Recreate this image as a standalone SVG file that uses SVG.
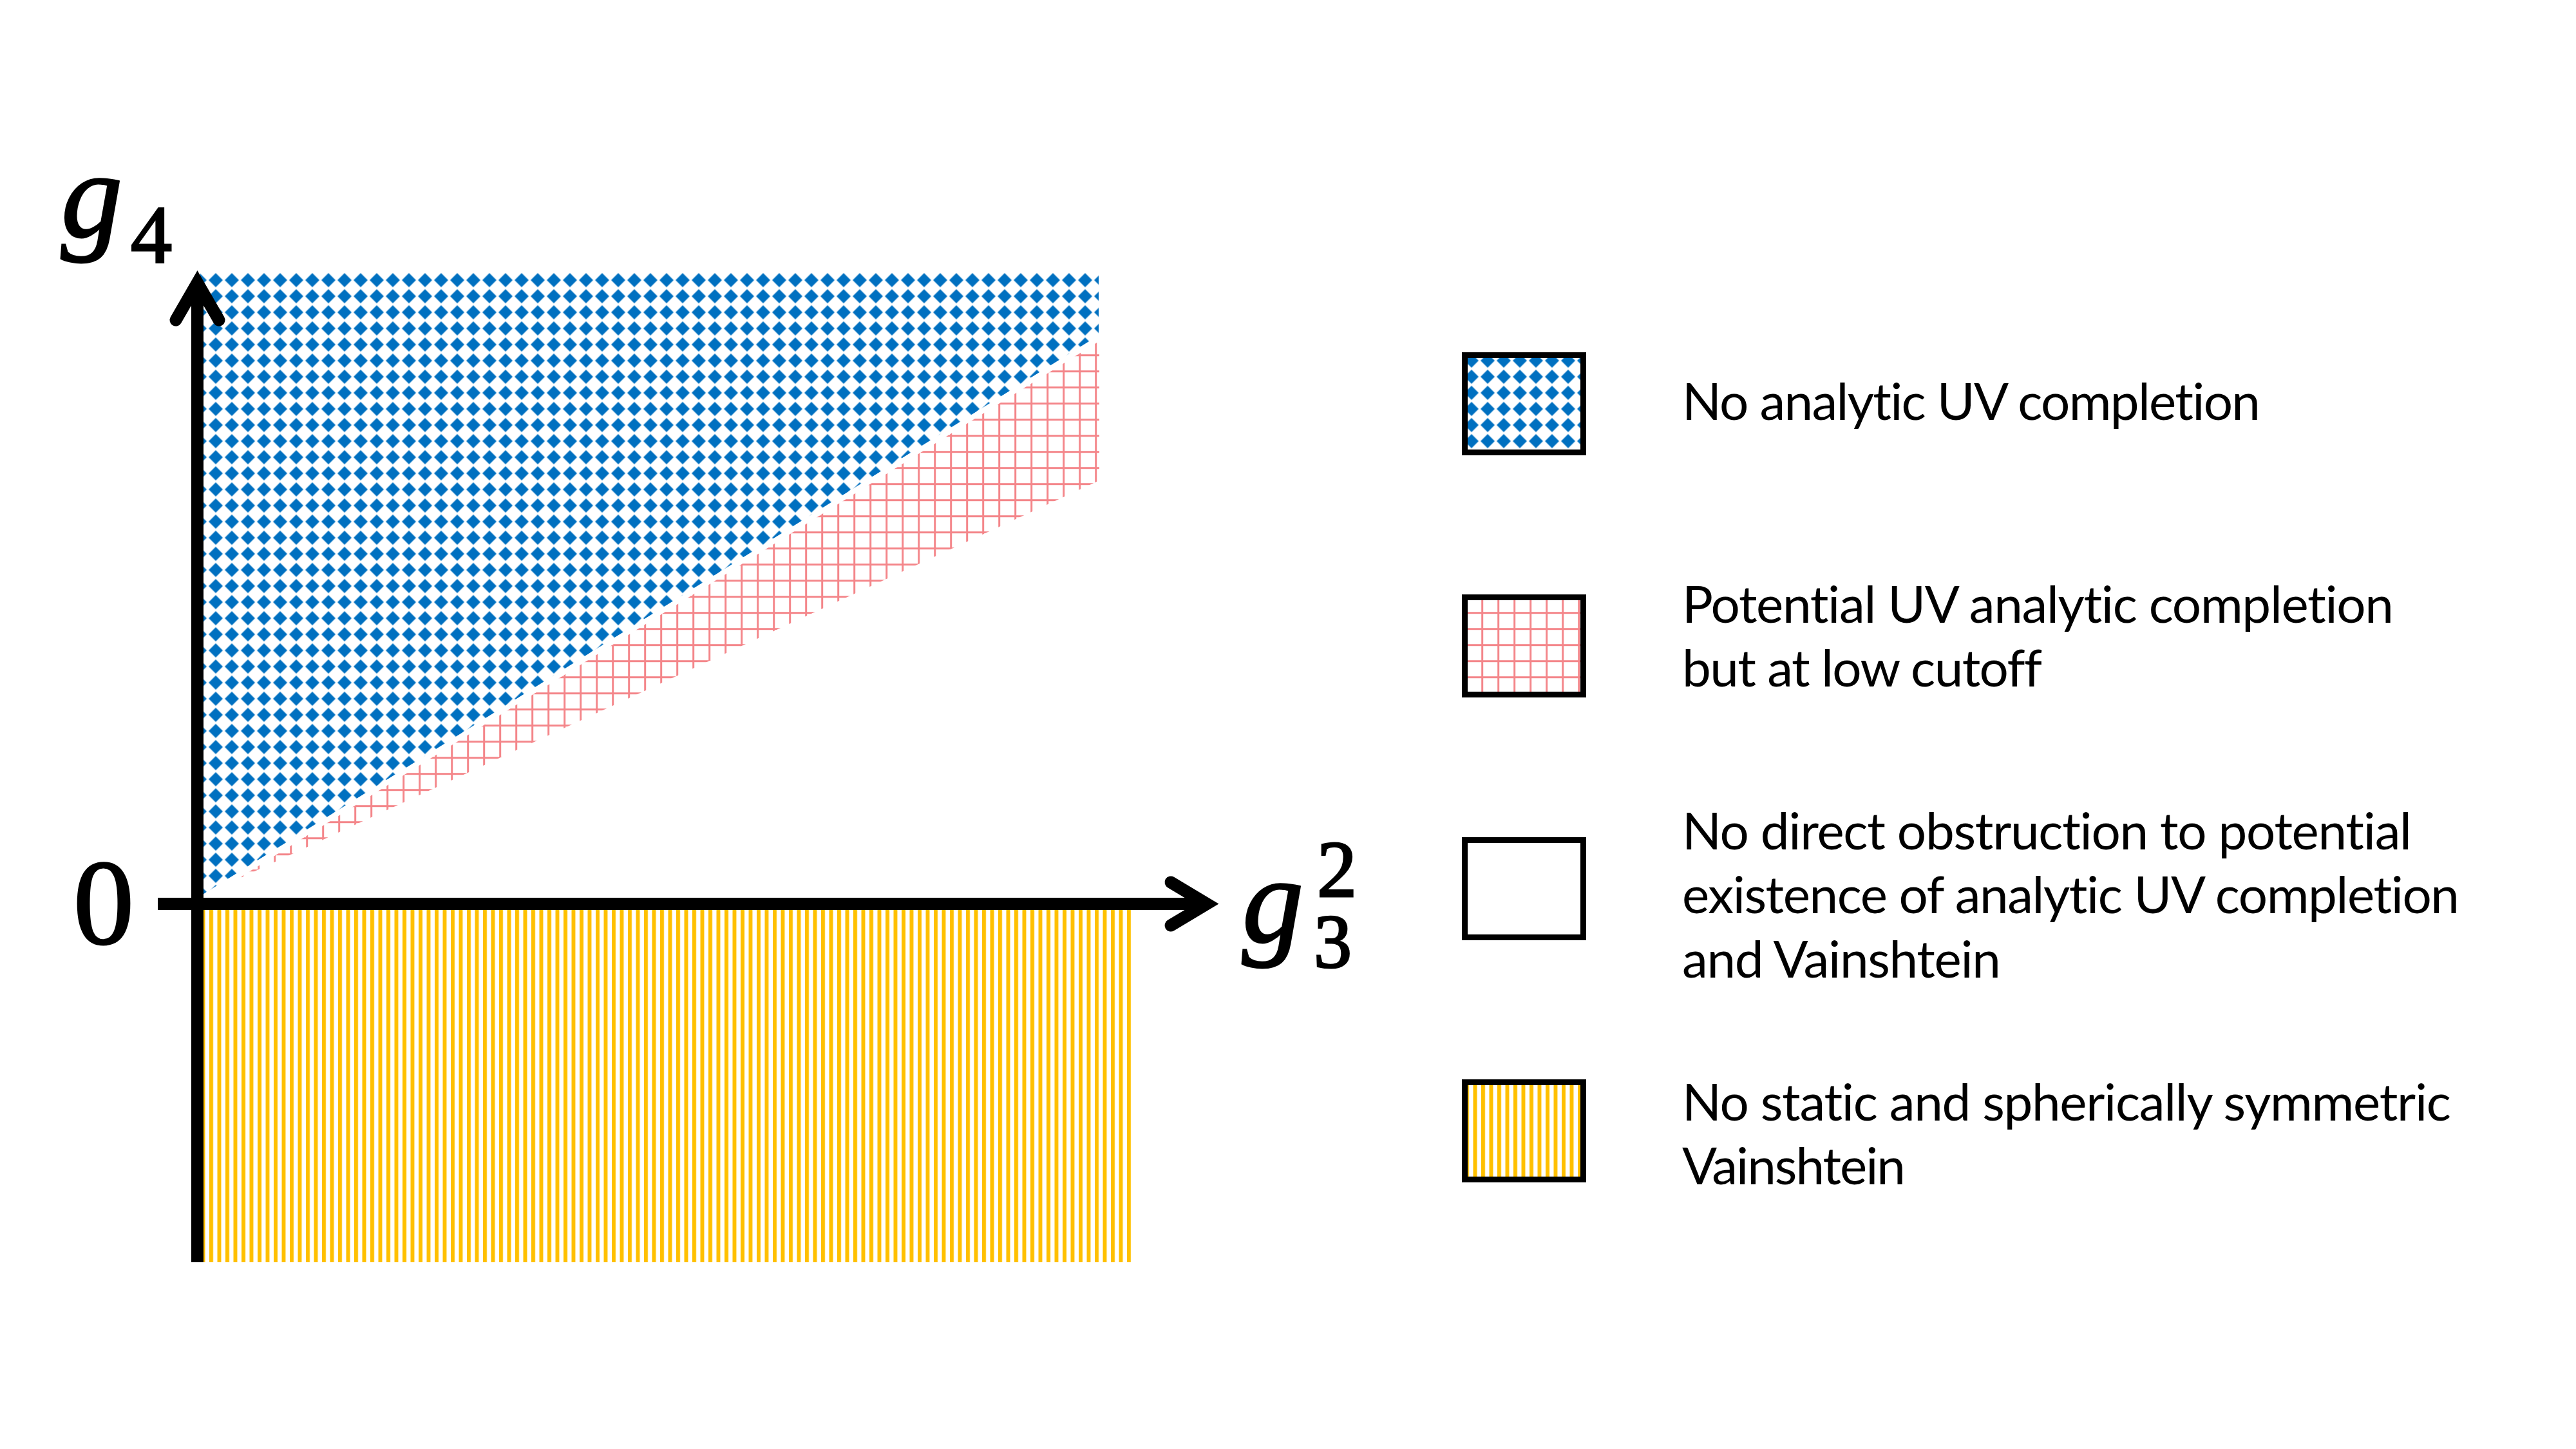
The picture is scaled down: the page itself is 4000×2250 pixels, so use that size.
<svg xmlns="http://www.w3.org/2000/svg" width="4000" height="2250" viewBox="0 0 4000 2250">
<style>
.math{font-family:"Liberation Serif","DejaVu Serif",serif;fill:#000;stroke:#000;stroke-width:3}
.mi{font-style:italic}
.leg{font-family:Lato,"Open Sans","Liberation Sans",sans-serif;font-size:80px;fill:#000;font-variant-ligatures:none}
.box{stroke:#000;stroke-width:9}
.axis{fill:none;stroke:#000;stroke-width:19}
.head{fill:none;stroke:#000;stroke-width:19;stroke-linecap:round;stroke-linejoin:miter;stroke-miterlimit:10}
</style>
<defs>
<pattern id="diam" patternUnits="userSpaceOnUse" x="-2.5" y="-2.5" width="25" height="25">
<polygon points="12.5,1.5 23.5,12.5 12.5,23.5 1.5,12.5" fill="#0070C0"/>
</pattern>
<pattern id="grid" patternUnits="userSpaceOnUse" x="0" y="0" width="25" height="25">
<rect x="0.2" y="0" width="3" height="25" fill="#F4868A"/>
<rect x="0" y="0.2" width="25" height="3" fill="#F4868A"/>
</pattern>
<pattern id="vstripe" patternUnits="userSpaceOnUse" x="0" y="0" width="12.5" height="12.5">
<rect x="0" y="0" width="6" height="12.5" fill="#FFC000"/>
</pattern>
</defs>
<rect width="4000" height="2250" fill="#fff"/>

<g id="regions">
<polygon id="region-pink" points="316,1393 1710,523 1710,748" fill="url(#grid)" stroke="#fff" stroke-width="6" stroke-linejoin="round"/>
<polygon id="region-blue" points="307,420 1710,420 1710,523 316,1393 307,1393" fill="url(#diam)" stroke="#fff" stroke-width="8" stroke-linejoin="round"/>
<rect id="region-yellow" x="316" y="1413" width="1440" height="547" fill="url(#vstripe)"/>
</g>

<g id="connectors">
<line class="axis" x1="306.5" y1="439" x2="306.5" y2="1960"/>
<polyline class="head" points="273,497 306.5,439 340,497"/>
<line class="axis" x1="245" y1="1403.5" x2="1874" y2="1403.5"/>
<polyline class="head" points="1818,1370 1874,1403.5 1818,1437"/>
</g>

<g id="axis-labels">
<text class="math"><tspan class="mi" x="95" y="367" font-size="190">g</tspan><tspan x="203" y="407" font-size="128">4</tspan></text>
<text class="math" x="161" y="1465" font-size="188" text-anchor="middle">0</text>
<text class="math"><tspan class="mi" x="1929" y="1462" font-size="190">g</tspan><tspan x="2040" y="1502" font-size="118">3</tspan><tspan x="2045" y="1392" font-size="124">2</tspan></text>
</g>

<g id="legend-1">
<rect class="box" x="2274.5" y="551.5" width="184" height="151" fill="url(#diam)"/>
<text class="leg" x="2612" y="652" textLength="898">No analytic UV completion</text>
</g>
<g id="legend-2">
<rect class="box" x="2274.5" y="927.5" width="184" height="151" fill="url(#grid)"/>
<text class="leg" x="2612" y="967" textLength="1105">Potential UV analytic completion</text>
<text class="leg" x="2612" y="1066" textLength="559">but at low cutoff</text>
</g>
<g id="legend-3">
<rect class="box" x="2274.5" y="1304.5" width="184" height="151" fill="#fff"/>
<text class="leg" x="2612" y="1319" textLength="1133">No direct obstruction to potential</text>
<text class="leg" x="2612" y="1418" textLength="1207">existence of analytic UV completion</text>
<text class="leg" x="2612" y="1518" textLength="495">and Vainshtein</text>
</g>
<g id="legend-4">
<rect class="box" x="2274.5" y="1680.5" width="184" height="151" fill="url(#vstripe)"/>
<text class="leg" x="2612" y="1740" textLength="1194">No static and spherically symmetric</text>
<text class="leg" x="2612" y="1839" textLength="347">Vainshtein</text>
</g>
</svg>
